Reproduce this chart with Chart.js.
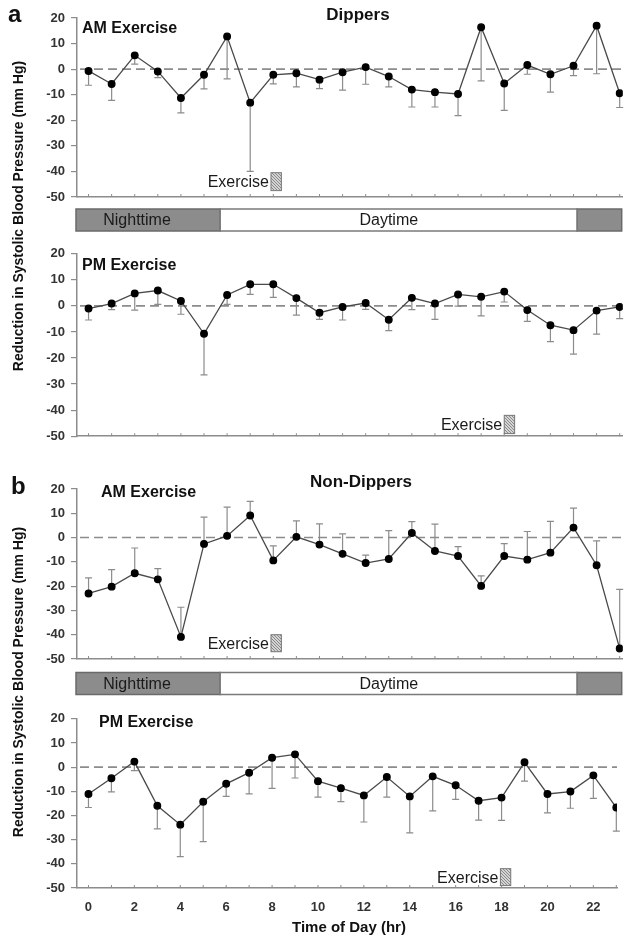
<!DOCTYPE html>
<html>
<head>
<meta charset="utf-8">
<script src="https://cdn.jsdelivr.net/npm/chart.js@4.4.1/dist/chart.umd.min.js"></script>
<style>
  body { margin: 0; background: #fff; font-family: "Liberation Sans", Arial, sans-serif; }
  #wrap { position: relative; width: 628px; height: 935px; overflow: hidden; }
  canvas { position: absolute; left: 0; }
  .lbl { position: absolute; font-weight: bold; color: #111; white-space: nowrap; line-height: 1; }
  .ytitle { position: absolute; width: 400px; text-align: center; font-weight: bold; font-size: 14px;
            line-height: 1; color: #111; transform: rotate(-90deg); white-space: nowrap; }
</style>
</head>
<body>
<div id="wrap">
  <canvas id="dipAm" width="628" height="240" style="top:0"></canvas>
  <canvas id="dipPm" width="628" height="210" style="top:240px"></canvas>
  <canvas id="nonAm" width="628" height="245" style="top:460px"></canvas>
  <canvas id="nonPm" width="628" height="230" style="top:705px"></canvas>

  <div class="lbl" style="left:8px;top:2px;font-size:24px">a</div>
  <div class="lbl" style="left:11px;top:474px;font-size:24px">b</div>
  <div class="lbl" style="left:258px;top:6px;width:200px;text-align:center;font-size:17px">Dippers</div>
  <div class="lbl" style="left:261px;top:473px;width:200px;text-align:center;font-size:17px">Non-Dippers</div>
  <div class="lbl" style="left:82px;top:20px;font-size:16px">AM Exercise</div>
  <div class="lbl" style="left:82px;top:257px;font-size:16px">PM Exercise</div>
  <div class="lbl" style="left:101px;top:484px;font-size:16px">AM Exercise</div>
  <div class="lbl" style="left:99px;top:714px;font-size:16px">PM Exercise</div>
  <div class="ytitle" style="left:-182px;top:209px">Reduction in Systolic Blood Pressure (mm Hg)</div>
  <div class="ytitle" style="left:-182px;top:675px">Reduction in Systolic Blood Pressure (mm Hg)</div>
  <div class="lbl" style="left:249px;top:919px;width:200px;text-align:center;font-size:15px">Time of Day (hr)</div>
</div>

<script>
// hours of the day
const hours = [0, 1, 2, 3, 4, 5, 6, 7, 8, 9, 10, 11, 12, 13, 14, 15, 16, 17, 18, 19, 20, 21, 22, 23];
const xTickLabels = [0, 2, 4, 6, 8, 10, 12, 14, 16, 18, 20, 22];
const yTicks = [20, 10, 0, -10, -20, -30, -40, -50];

// a: Dippers, AM exercise (mean and end of error bar)
const dipAmMean = [-0.7, -5.8, 5.4, -0.9, -11.3, -2.2, 12.8, -13.1, -2.2, -1.6, -4.1, -1.2,
                   0.8, -2.9, -8.0, -9.0, -9.7, 16.4, -5.6, 1.6, -2.0, 1.3, 17.0, -9.4];
const dipAmErr = [-6.3, -12.2, 2.0, -3.3, -17.1, -7.7, -3.8, -40.0, -5.8, -6.9, -7.6, -8.2,
                  -5.9, -6.9, -14.8, -14.8, -18.2, -4.6, -16.1, -2.0, -9.0, -2.5, -1.8, -15.0];

// a: Dippers, PM exercise
const dipPmMean = [-1.0, 0.9, 4.8, 5.9, 1.9, -10.7, 4.2, 8.3, 8.3, 3.0, -2.6, -0.4,
                   1.1, -5.3, 3.1, 0.9, 4.4, 3.5, 5.5, -1.6, -7.4, -9.3, -1.8, -0.4];
const dipPmErr = [-5.4, -1.4, -1.6, 0.6, -3.2, -26.5, 0.6, 4.4, 3.3, -3.5, -5.2, -5.4,
                  -1.3, -9.5, -1.4, -5.2, -0.1, -3.8, 1.5, -5.9, -13.7, -18.5, -10.8, -4.9];

// b: Non-Dippers, AM exercise
const nonAmMean = [-23.0, -20.2, -14.7, -17.2, -40.9, -2.6, 0.7, 9.1, -9.4, 0.3, -2.9, -6.7,
                   -10.5, -8.8, 1.9, -5.5, -7.6, -19.9, -7.6, -9.1, -6.2, 4.1, -11.4, -45.7];
const nonAmErr = [-16.6, -13.2, -4.3, -12.8, -28.7, 8.4, 12.5, 14.9, -3.4, 6.9, 5.6, 1.5,
                  -7.2, 2.9, 6.6, 5.5, -3.7, -15.8, -2.5, 2.5, 6.7, 12.1, -1.4, -21.3];

// b: Non-Dippers, PM exercise
const nonPmMean = [-11.1, -4.6, 2.3, -16.0, -23.8, -14.3, -6.9, -2.3, 3.9, 5.3, -5.8, -8.7,
                   -11.7, -4.1, -12.1, -3.8, -7.5, -13.9, -12.6, 2.0, -11.1, -10.1, -3.4, -16.7];
const nonPmErr = [-16.7, -10.2, -1.4, -25.5, -37.0, -30.8, -12.1, -11.1, -8.8, -4.5, -12.4, -14.3,
                  -22.7, -12.4, -27.2, -18.1, -13.3, -21.9, -22.0, -5.8, -18.9, -17.0, -12.9, -26.5];

// night/day band (hours) and exercise periods
const nightEnd = 5.7;
const dayEnd = 21.15;
const exerciseAm = [7.9, 8.35];
const exercisePm = [18.0, 18.45];

const FONT = '"Liberation Sans", Arial, sans-serif';
Chart.defaults.font.family = FONT;
Chart.defaults.animation = false;

// little stippled pattern for the exercise box
const hatch = (() => {
  const c = document.createElement("canvas");
  c.width = 3; c.height = 3;
  const g = c.getContext("2d");
  g.fillStyle = "#d4d4d4"; g.fillRect(0, 0, 3, 3);
  g.fillStyle = "#8a8a8a";
  g.fillRect(0, 0, 1, 1); g.fillRect(1, 1, 1, 1); g.fillRect(2, 2, 1, 1);
  return c;
})();

const decor = {
  id: "decor",
  beforeDatasetsDraw(chart, args, o) {
    const { ctx, chartArea: a, scales: { x, y } } = chart;
    ctx.save();
    // zero reference line
    const y0 = y.getPixelForValue(0);
    ctx.strokeStyle = "#8c8c8c";
    ctx.lineWidth = 1.6;
    ctx.setLineDash([9, 5]);
    ctx.beginPath();
    ctx.moveTo(a.left + 3, y0);
    ctx.lineTo(a.right, y0);
    ctx.stroke();
    ctx.setLineDash([]);
    // one sided error bars
    ctx.strokeStyle = "#8c8c8c";
    ctx.lineWidth = 1.2;
    o.err.forEach((e, i) => {
      const px = x.getPixelForValue(hours[i]);
      const pm = y.getPixelForValue(o.mean[i]);
      const pe = y.getPixelForValue(e);
      ctx.beginPath();
      ctx.moveTo(px, pm); ctx.lineTo(px, pe);
      ctx.moveTo(px - 3.5, pe); ctx.lineTo(px + 3.5, pe);
      ctx.stroke();
    });
    ctx.restore();
  },
  afterDraw(chart, args, o) {
    const { ctx, chartArea: a, scales: { x, y } } = chart;
    ctx.save();
    // inward hour ticks
    ctx.strokeStyle = "#8c8c8c";
    ctx.lineWidth = 1;
    hours.forEach(h => {
      const px = x.getPixelForValue(h);
      ctx.beginPath();
      ctx.moveTo(px, a.bottom);
      ctx.lineTo(px, a.bottom - 3);
      ctx.stroke();
    });
    // exercise marker
    if (o.exercise) {
      const x1 = x.getPixelForValue(o.exercise[0]);
      const x2 = x.getPixelForValue(o.exercise[1]);
      const y1 = y.getPixelForValue(o.exY[0]);
      const y2 = y.getPixelForValue(o.exY[1]);
      ctx.fillStyle = ctx.createPattern(hatch, "repeat");
      ctx.fillRect(x1, y1, x2 - x1, y2 - y1);
      ctx.strokeStyle = "#777";
      ctx.lineWidth = 1;
      ctx.strokeRect(x1, y1, x2 - x1, y2 - y1);
      ctx.fillStyle = "#1a1a1a";
      ctx.font = "16px " + FONT;
      ctx.textAlign = "right";
      ctx.textBaseline = "middle";
      ctx.fillText("Exercise", x1 - 2, (y1 + y2) / 2 + 1);
    }
    // nighttime / daytime band
    if (o.band) {
      const top = a.bottom + o.band, h = 22;
      const xs = a.left - 1, xn = x.getPixelForValue(nightEnd), xd = x.getPixelForValue(dayEnd), xe = a.right - 1;
      ctx.lineWidth = 1.5;
      ctx.fillStyle = "#8c8c8c"; ctx.strokeStyle = "#6a6a6a";
      ctx.fillRect(xs, top, xn - xs, h); ctx.strokeRect(xs, top, xn - xs, h);
      ctx.fillRect(xd, top, xe - xd, h); ctx.strokeRect(xd, top, xe - xd, h);
      ctx.fillStyle = "#fff"; ctx.strokeStyle = "#7a7a7a";
      ctx.fillRect(xn, top, xd - xn, h); ctx.strokeRect(xn, top, xd - xn, h);
      ctx.fillStyle = "#1a1a1a";
      ctx.font = "16px " + FONT;
      ctx.textAlign = "center";
      ctx.textBaseline = "middle";
      ctx.fillText("Nighttime", x.getPixelForValue(2.1), top + h / 2 + 1);
      ctx.fillText("Daytime", x.getPixelForValue(13), top + h / 2 + 1);
    }
    ctx.restore();
  }
};

function makeChart(id, mean, err, cfg) {
  return new Chart(document.getElementById(id), {
    type: "line",
    data: {
      datasets: [{
        data: hours.map((h, i) => ({ x: h, y: mean[i] })),
        borderColor: "#4a4a4a",
        borderWidth: 1.3,
        pointRadius: 3.3,
        pointBackgroundColor: "#000",
        pointBorderColor: "#000",
        tension: 0
      }]
    },
    options: {
      responsive: false,
      layout: { padding: cfg.padding },
      plugins: {
        legend: { display: false },
        tooltip: { enabled: false },
        decor: { mean: mean, err: err, exercise: cfg.exercise, exY: cfg.exY, band: cfg.band }
      },
      scales: {
        x: {
          type: "linear",
          min: -0.5,
          max: cfg.xMax,
          afterBuildTicks: s => { s.ticks = xTickLabels.map(v => ({ value: v })); },
          afterFit: s => { s.height = cfg.xHeight; },
          grid: { display: false },
          border: { color: "#8c8c8c", width: 1.5 },
          ticks: {
            display: cfg.xLabels,
            autoSkip: false,
            maxRotation: 0,
            padding: 4,
            color: "#333",
            font: { size: 13, weight: "bold" }
          }
        },
        y: {
          min: -50,
          max: 20,
          afterBuildTicks: s => { s.ticks = yTicks.map(v => ({ value: v })); },
          afterFit: s => { s.width = 77; },
          grid: { drawOnChartArea: false, drawTicks: true, tickLength: 6, color: "#8c8c8c", lineWidth: 1.2 },
          border: { color: "#8c8c8c", width: 1.5 },
          ticks: { padding: 6, color: "#333", font: { size: 13, weight: "bold" } }
        }
      }
    },
    plugins: [decor]
  });
}

makeChart("dipAm", dipAmMean, dipAmErr, {
  padding: { top: 18, right: 1, bottom: 33, left: 0 }, xMax: 23.13, xHeight: 10, xLabels: false,
  exercise: exerciseAm, exY: [-40.5, -47.5], band: 12
});
makeChart("dipPm", dipPmMean, dipPmErr, {
  padding: { top: 13, right: 1, bottom: 2, left: 0 }, xMax: 23.13, xHeight: 10, xLabels: false,
  exercise: exercisePm, exY: [-42, -49]
});
makeChart("nonAm", nonAmMean, nonAmErr, {
  padding: { top: 29, right: 1, bottom: 36, left: 0 }, xMax: 23.13, xHeight: 10, xLabels: false,
  exercise: exerciseAm, exY: [-40, -47], band: 13.5
});
makeChart("nonPm", nonPmMean, nonPmErr, {
  padding: { top: 11, right: 11, bottom: 17, left: 0 }, xMax: 23.03, xHeight: 30, xLabels: true,
  exercise: [17.95, 18.4], exY: [-42, -49]
});
</script>
</body>
</html>
